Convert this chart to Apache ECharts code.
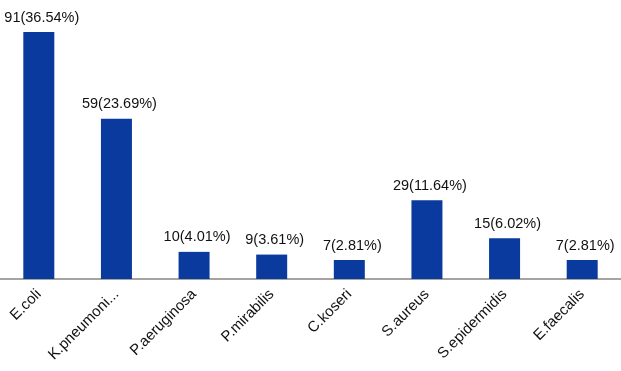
<!DOCTYPE html>
<html><head><meta charset="utf-8">
<script src="https://cdn.jsdelivr.net/npm/echarts@6/dist/echarts.min.js"></script>
<style>html,body{margin:0;padding:0;background:#fff}#c{width:621px;height:371px}</style>
</head><body><div id="c"></div>
<script>
var categories = ["E.coli","K.pneumoni...","P.aeruginosa","P.mirabilis","C.koseri","S.aureus","S.epidermidis","E.faecalis"];
var counts = [91,59,10,9,7,29,15,7];
var percents = ["36.54%","23.69%","4.01%","3.61%","2.81%","11.64%","6.02%","2.81%"];

var FONT = "'Liberation Sans', Arial, sans-serif";
var chart = echarts.init(document.getElementById('c'));
chart.setOption({
  animation:false,
  grid:{left:-2, right:-1.5, top:7.6, bottom:92, containLabel:false},
  xAxis:{type:'category', data:categories,
    axisLine:{lineStyle:{color:'#8a8480', width:1.5}},
    axisTick:{show:false},
    axisLabel:{rotate:45, interval:0, margin:13, fontFamily:FONT, fontSize:15, color:'#111'}
  },
  yAxis:{type:'value', min:0, max:100, show:false, splitLine:{show:false}},
  series:[{type:'bar', data:counts, barWidth:31,
    itemStyle:{color:'#0b3a9e'},
    label:{show:true, position:'top', distance:7, offset:[3,0], fontFamily:FONT, fontSize:14.5, color:'#111',
      formatter:function(p){return p.value+'('+percents[p.dataIndex]+')';}}
  }]
});
</script></body></html>
